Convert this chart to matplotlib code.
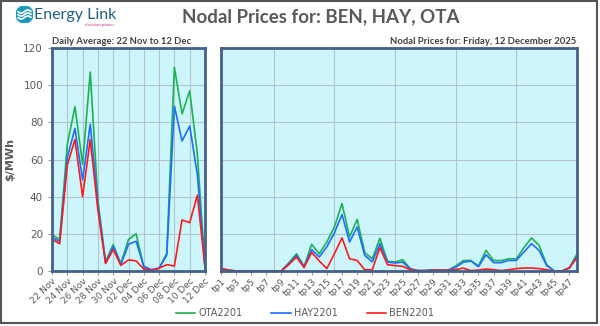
import numpy as np
import matplotlib
matplotlib.use("Agg")
import matplotlib.pyplot as plt
from matplotlib.patches import Rectangle, Circle

# daily averages, 22 Nov .. 12 Dec
days = ["22 Nov", "23 Nov", "24 Nov", "25 Nov", "26 Nov", "27 Nov", "28 Nov",
        "29 Nov", "30 Nov", "01 Dec", "02 Dec", "03 Dec", "04 Dec", "05 Dec",
        "06 Dec", "07 Dec", "08 Dec", "09 Dec", "10 Dec", "11 Dec", "12 Dec"]
ota_daily = [19.5, 17, 68, 88.4, 57.5, 107, 38, 5, 14.2, 4, 17, 20, 2, 0.5,
             1.5, 9.5, 109.6, 84.5, 97, 63, 2]
hay_daily = [18, 16, 61, 76.7, 49, 79, 36, 4.5, 13, 3.5, 14.4, 16, 2.5, 0.7,
             1.5, 8.5, 88.7, 70, 78, 52, 2]
ben_daily = [17, 14.7, 57, 70.8, 40, 70.8, 32.7, 4, 11.5, 3, 6, 5.4, 1, 0.3,
             1.5, 3.4, 2.7, 27.5, 26, 40.8, 2]

# trading periods for 12 Dec
periods = ["tp%d" % i for i in range(1, 49)]
ota_tp = [1.5, 0.5, 0, 0, 0, 0, 0, 0, 0, 4.5, 9.3, 2.5, 14.4, 9.3, 15.6, 23.7,
          36.3, 18.3, 27.8, 9.9, 6.6, 17.6, 5.2, 4.8, 6.1, 1.3, 0.2, 0.2, 0.7,
          0.5, 0.4, 2.7, 5.6, 5.7, 2.7, 11.1, 5.6, 5.6, 6.6, 6.5, 12.6, 17.8,
          13.8, 3.4, 0, 0, 1.6, 9.3]
hay_tp = [1.3, 0.5, 0, 0, 0, 0, 0, 0, 0, 4, 8.4, 2.2, 11.5, 7.5, 13, 20.5,
          30.4, 15.6, 23.7, 8.4, 4.9, 14.7, 4.8, 4.3, 4.8, 1.1, 0.2, 0.2, 0.6,
          0.5, 0.4, 2, 4.7, 5.4, 2.3, 8.8, 4.5, 4.5, 5.7, 5.7, 10.2, 14.7,
          11.1, 2.9, 0, 0, 1.6, 7.9]
ben_tp = [1.2, 0.5, 0, 0, 0, 0, 0, 0, 0, 3.5, 7.5, 1.8, 10, 5.4, 1.3, 9.3,
          17.8, 6.6, 5.7, 0.7, 0.7, 12.6, 3.4, 2.9, 2.5, 0.7, 0.2, 0.2, 0.4,
          0.5, 0.4, 0.7, 1.6, 0.2, 0.5, 1.1, 0.7, 0.2, 0.7, 1.3, 1.6, 1.6,
          1.3, 0.7, 0, 0, 1.8, 7.2]

GREEN = "#1bb350"
BLUE = "#1f6dff"
RED = "#ff1a1a"
BG = "#ccf5fc"
FRAME = "#44618a"
GRID = "#b4c4cc"
TXT = "#595959"

fig = plt.figure(figsize=(6, 3.26), dpi=100)
fig.patch.set_facecolor("white")

H = 326.0
ax1 = fig.add_axes([52 / 600, 1 - 271 / H, 153 / 600, 223 / H])
ax2 = fig.add_axes([220.7 / 600, 1 - 271 / H, 356.3 / 600, 223 / H])


def style(ax, n):
    ax.set_facecolor(BG)
    ax.set_xlim(0, n - 1)
    ax.set_ylim(0, 120)
    ax.set_yticks(range(0, 121, 20))
    ax.grid(axis="y", color=GRID, lw=0.8)
    for s in ax.spines.values():
        s.set_color(FRAME)
        s.set_linewidth(2)
    ax.tick_params(axis="x", length=3, color="#999999", labelsize=6.5,
                   labelcolor=TXT, pad=1)
    ax.tick_params(axis="y", length=3, color="#999999", labelsize=7.5,
                   labelcolor=TXT)
    ax.set_axisbelow(True)


style(ax1, len(days))
style(ax2, len(periods))

x1 = np.arange(len(days))
for y, c, lab in [(ota_daily, GREEN, "OTA2201"), (hay_daily, BLUE, "HAY2201"),
                  (ben_daily, RED, "BEN2201")]:
    ax1.plot(x1, y, color=c, lw=1.2, label=lab)
ax1.set_xticks(x1[::2])
ax1.set_xticklabels(days[::2], rotation=45, ha="right", rotation_mode="anchor")
for xv in x1[::2]:
    ax1.axvline(xv, color=GRID, lw=0.8, zorder=0)
ax1.set_ylabel("$/MWh", fontsize=8, color=TXT, fontweight="bold", labelpad=6)

x2 = np.arange(len(periods))
for y, c in [(ota_tp, GREEN), (hay_tp, BLUE), (ben_tp, RED)]:
    ax2.plot(x2, y, color=c, lw=1.2)
ax2.set_xticks(x2[::2])
ax2.set_xticklabels(periods[::2], rotation=45, ha="right", rotation_mode="anchor")
ax2.tick_params(axis="y", length=0, labelleft=False)
for xv in x2[7::8]:
    ax2.axvline(xv, color=GRID, lw=0.8, zorder=0)

# titles
fig.text(321 / 600, 1 - 17 / H, "Nodal Prices for: BEN, HAY, OTA", ha="center",
         va="center", fontsize=13.5, fontweight="bold", color=TXT, family="Lato")
fig.text(52 / 600, 1 - 41 / H, "Daily Average: 22 Nov to 12 Dec", ha="left",
         va="center", fontsize=6.8, fontweight="bold", color="#404040", family="Lato")
fig.text(576 / 600, 1 - 41 / H, "Nodal Prices for: Friday, 12 December 2025",
         ha="right", va="center", fontsize=6.8, fontweight="bold", color="#404040",
         family="Lato")

# logo
fig.text(34 / 600, 1 - 15 / H, "Energy Link", ha="left", va="center",
         fontsize=11.5, color="#1f5f84", family="Lato")
fig.text(85 / 600, 1 - 25 / H, "decision power", ha="left", va="center",
         fontsize=3.2, color="#d0307a", family="Lato")
lax = fig.add_axes([16 / 600, 1 - 23 / H, 17 / 600, 17 / H])
lax.set_xlim(-1, 1)
lax.set_ylim(-1, 1)
lax.set_aspect("equal")
lax.axis("off")
lax.add_patch(Circle((0, 0), 1, color="#1a9ab8"))
t = np.linspace(-0.75, 0.75, 50)
for off in (-0.35, 0.0, 0.35):
    lax.plot(t, off + 0.18 * np.sin(t * 4), color="white", lw=1.2)

# legend
handles, labels = ax1.get_legend_handles_labels()
fig.legend(handles, labels, loc="center", bbox_to_anchor=(305 / 600, 1 - 313 / H),
           ncol=3, frameon=False, fontsize=7, labelcolor=TXT,
           handlelength=2.0, columnspacing=3.0, handletextpad=0.3)

# outer border
fig.patches.append(Rectangle((0.002, 0.008), 0.993, 0.99, transform=fig.transFigure,
                             fill=False, edgecolor="#555555", lw=1.5))

fig.savefig("out.png", dpi=100)
